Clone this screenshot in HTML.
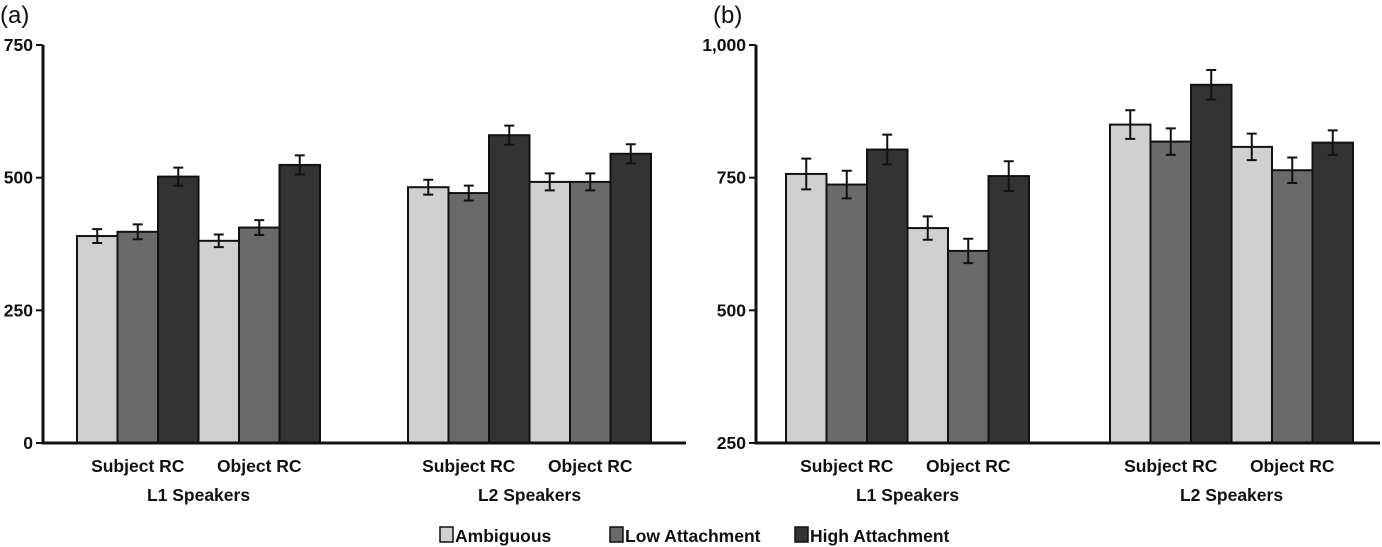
<!DOCTYPE html>
<html><head><meta charset="utf-8"><style>
body{margin:0;background:#fff;}
svg{display:block;font-family:"Liberation Sans",Arial,sans-serif;}
.t{font-weight:bold;font-size:17.5px;fill:#111;}
</style></head><body>
<svg id="c" width="1382" height="547" viewBox="0 0 1382 547"></svg>
<script>
const groups=["L1 Speakers","L2 Speakers"];
const conds=["Subject RC","Object RC"];
const series=["Ambiguous","Low Attachment","High Attachment"];
const colors=["#d0d0d0","#6a6a6a","#333333"];
const valsA=[390,398,502,381,406,524,482,471,580,492,492,545];
const errA=[13,14,17,12,14,18,14,14,18,16,16,18];
const valsB=[757,737,803,655,612,753,850,818,925,808,764,816];
const errB=[29,26,28,22,23,28,27,25,28,25,24,23];
const ticksA=[0,250,500,750];
const tickLabelsA=["0","250","500","750"];
const ticksB=[250,500,750,1000];
const tickLabelsB=["250","500","750","1,000"];
const NS="http://www.w3.org/2000/svg";
const svg=document.getElementById('c');
function mk(tag,attrs,parent){const e=document.createElementNS(NS,tag);for(const k in attrs)e.setAttribute(k,attrs[k]);(parent||svg).appendChild(e);return e;}
function panel(name,axisX,x0,g2x0,endX,min,max,vals,errs,ticks,labels,letter){
  const g=mk('g',{});
  
  
  const yTop=45,yBot=443;
  const y=v=>yBot-(v-min)/(max-min)*(yBot-yTop);
  const bw=40.5;
  const lt=mk('text',{x:axisX-43,y:23,'font-size':24,fill:'#111'},g);lt.textContent=letter;
  
  
  vals.forEach((v,i)=>{
    const gi=Math.floor(i/6),k=i%6;
    const x=(gi?g2x0:x0)+k*bw;
    const r=mk('rect',{x:x,y:y(v),width:bw,height:yBot-y(v),fill:colors[k%3],stroke:'#111','stroke-width':2},g);
    
    
    const cx=x+bw/2,t=y(v+errs[i]),b=y(v-errs[i]);
    const e=mk('path',{d:`M${cx-5},${t}H${cx+5}M${cx},${t}V${b}M${cx-5},${b}H${cx+5}`,stroke:'#111','stroke-width':2,fill:'none'},g);
    
    
  });
  const ax=mk('path',{d:`M${axisX},${yTop}V${yBot}H${endX}`,stroke:'#111','stroke-width':3,fill:'none'},g);
  
  
  ticks.forEach((tv,i)=>{
    mk('line',{x1:axisX-7,x2:axisX,y1:y(tv),y2:y(tv),stroke:'#111','stroke-width':2},g);
    const tx=mk('text',{x:axisX-10,y:y(tv)+6,'text-anchor':'end',class:'t'},g);tx.textContent=labels[i];
    
    
  });
  groups.forEach((gn,gi)=>{
    const gx=gi?g2x0:x0;
    conds.forEach((cn,ci)=>{
      const tx=mk('text',{x:gx+ci*3*bw+1.5*bw,y:472,'text-anchor':'middle',class:'t'},g);tx.textContent=cn;
      
      
    });
    const tg=mk('text',{x:gx+3*bw,y:501,'text-anchor':'middle',class:'t'},g);tg.textContent=gn;
    
    
  });
}
panel('panel-a',43,77,408,686,0,750,valsA,errA,ticksA,tickLabelsA,'(a)');
panel('panel-b',756,786,1110,1380,250,1000,valsB,errB,ticksB,tickLabelsB,'(b)');
const lx=[440,610,795];
series.forEach((s,i)=>{
  const r=mk('rect',{x:lx[i],y:527,width:13,height:15,fill:colors[i],stroke:'#111','stroke-width':1.5});
  
  
  const t=mk('text',{x:lx[i]+15,y:542,class:'t'});t.textContent=s;
  
  
});
</script>
</body></html>
